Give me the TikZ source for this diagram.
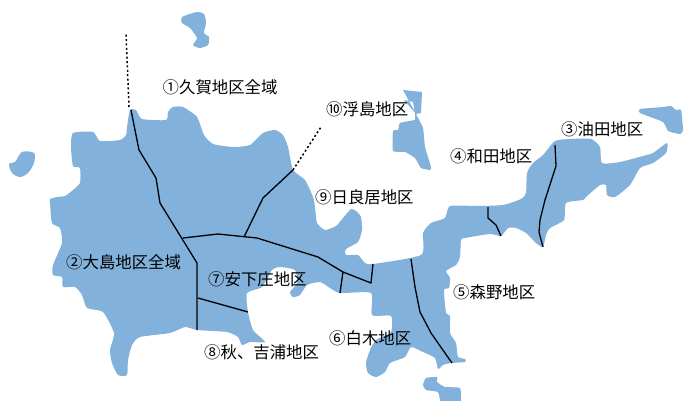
\documentclass[tikz,border=0pt]{standalone}
\usepackage{fontspec}
\setmainfont{Noto Sans CJK JP}
\definecolor{landblue}{HTML}{82B2DB}
\tikzset{
  land/.style={fill=landblue,draw=none},
  border/.style={black,line width=1.3pt,line join=round},
  dotline/.style={black,line width=1.5pt,dash pattern=on 2pt off 2.4pt},
  place/.style={font=\fontsize{16.4}{16.4}\selectfont,text=black,inner sep=0pt,anchor=west}
}
\begin{document}
\begin{tikzpicture}[x=1pt,y=-1pt]
\useasboundingbox (0,0) rectangle (693,401);
\fill[white] (0,0) rectangle (693,401);
% main land
\fill[land] plot[smooth cycle,tension=0.35] coordinates {
(130,110)(136,110)(142,119)(166,120)(168,112)(173,107)(183,107)(197,117)(204,135)(213,144)(233,147)(250,145)(263,133)(275,130)(283,135)(288,147)(293,170)(305,180)(313,197)
(315,207)(317,223)(325,230)(336,226)(343,218)(351,209)(356,211)(361,217)(362,230)(358,242)(346,249)(346,255)(358,255)(365,263)(373,264)(421,255)(423,233)(431,223)(445,218)(450,206)(476,206)(503,205)(521,199)
(526,193)(527,173)(533,163)(543,155)(555,141)(570,139)(591,139)(600,147)(602,163)(620,162)(643,156)(653,153)(667,143)(666,153)(653,163)(640,168)(630,185)(615,197)(607,195)(606,185)(600,185)(586,197)(583,200)
(566,203)(564,220)(550,228)(546,235)(543,247)(536,243)(526,233)(516,228)(508,228)(501,236)(490,234)(465,238)(461,240)(460,257)(456,265)(446,271)(450,278)(449,288)(444,290)(446,313)(450,316)(450,333)(456,343)(458,357)(465,359)(465,362)(451,363)(443,365)(438,369)(435,358)(423,352)(411,347)(405,357)(390,363)(385,372)(376,377)(368,373)(366,363)(370,350)(376,340)(391,332)(391,316)(372,315)(371,293)
(340,293)(330,288)(320,282)(307,285)(300,295)(293,297)(290,292)(297,283)(295,270)(280,267)(272,270)(262,287)(247,293)(248,312)(253,330)(265,342)(250,342)(242,345)(238,337)(227,332)(197,330)(185,327)(170,333)(140,337)(132,345)(128,360)(127,375)(118,375)(112,363)(110,350)(114,333)(103,312)(87,308)(82,295)(75,287)(63,287)(62,277)(53,275)(53,265)(62,243)(60,228)(52,223)(50,203)
(50,199)(57,197)(65,196)(73,190)(80,183)(80,168)(73,166)(71,147)(73,133)(93,132)(100,141)(120,140)(126,135)(127,127)};
% islands
\fill[land] plot[smooth cycle,tension=0.4] coordinates {(182,17)(197,12)(204,14)(206,23)(204,33)(209,37)(208,45)(200,48)(193,45)(197,38)(190,28)(182,23)};
\fill[land] plot[smooth cycle,tension=0.5] coordinates {(9,164)(15,162)(22,152)(34,153)(34,163)(28,173)(20,177)(12,173)};
\fill[land] (403,90)--(422,92)--(421,113)--(416,114)
  plot[smooth,tension=0.25] coordinates {(416,114)(423,128)(425,147)(431,167)(430,170)(421,168)(415,158)(405,152)(393,151)(393,131)(398,130)(400,123)(415,120)}
  --(415,114)--(413,102)--(404,100)--cycle;
\fill[land] plot[smooth cycle,tension=0.3] coordinates {(640,109)(663,107)(671,106)(676,110)(681,110)(683,130)(680,134)(668,131)(663,122)(640,113)};
\fill[land] plot[smooth,tension=0.3] coordinates {(440,401)(438,392)(426,390)(423,385)(426,378)(437,377)(437,382)(445,387)(460,388)(461,401)} -- cycle;
% borders
\draw[border] (131,110)--(139,150)--(156,178)--(160,203)--(197,263)--(197,330);
\draw[border] (183,238)--(218,234)--(257,238)--(318,257)--(343,272)--(371,283)--(373,264);
\draw[border] (343,272)--(340,293);
\draw[border] (244,237)--(263,198)--(293,170);
\draw[border] (198,298)--(248,312);
\draw[border] (411,259)--(415,287)--(420,312)--(431,333)--(452,363);
\draw[border] (488,207)--(488,218)--(496,225)--(501,236);
\draw[border] (555,145)--(556,166)--(545,200)--(540,220)--(539,232)--(543,247);
\draw[dotline] (293,170)--(321,127);
\draw[dotline] (129,107)--(126,33);
% labels
\node[place] (n1) at (162.5,87) {①久賀地区全域};
\node[place] (n2) at (66,262) {②大島地区全域};
\node[place] (n3) at (561,129) {③油田地区};
\node[place] (n4) at (450,156) {④和田地区};
\node[place] (n5) at (453,292) {⑤森野地区};
\node[place] (n6) at (329,338) {⑥白木地区};
\node[place] (n7) at (208,279) {⑦安下庄地区};
\node[place] (n8) at (204,352) {⑧秋、吉浦地区};
\node[place] (n9) at (315,197) {⑨日良居地区};
\node[place] (n10) at (326,109) {⑩浮島地区};
\end{tikzpicture}
\end{document}
